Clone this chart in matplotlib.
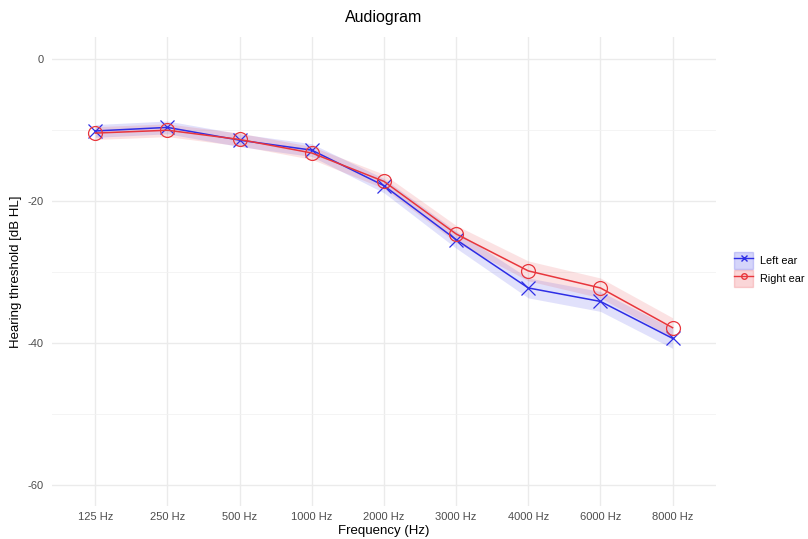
import matplotlib.pyplot as plt
from matplotlib.patches import Patch
from matplotlib.lines import Line2D

plt.rcParams['font.family'] = ['Liberation Sans', 'DejaVu Sans']
plt.rcParams['axes.unicode_minus'] = False

# Audiogram thresholds (dB HL)
freqs = ['125 Hz', '250 Hz', '500 Hz', '1000 Hz', '2000 Hz', '3000 Hz', '4000 Hz', '6000 Hz', '8000 Hz']
left_ear = [-10.2, -9.7, -11.5, -12.9, -17.9, -25.5, -32.3, -34.2, -39.4]
right_ear = [-10.5, -10.1, -11.4, -13.3, -17.3, -24.7, -29.9, -32.3, -37.9]
left_err = [0.9, 0.9, 0.9, 0.9, 1.0, 1.2, 1.4, 1.4, 1.4]
right_err = [0.9, 0.9, 0.9, 0.9, 1.0, 1.2, 1.4, 1.4, 1.4]

blue = '#2E2EE6'
red = '#E8363C'

fig = plt.figure(figsize=(8.08, 5.39), dpi=100)
ax = fig.add_axes([0.0644, 0.0612, 0.8216, 0.8698])

x = list(range(1, len(freqs) + 1))

lo = [v - e for v, e in zip(left_ear, left_err)]
hi = [v + e for v, e in zip(left_ear, left_err)]
ax.fill_between(x, lo, hi, color=blue, alpha=0.14, linewidth=0)
lo = [v - e for v, e in zip(right_ear, right_err)]
hi = [v + e for v, e in zip(right_ear, right_err)]
ax.fill_between(x, lo, hi, color=red, alpha=0.14, linewidth=0)

ax.plot(x, left_ear, color=blue, lw=1.1, marker='x', ms=10, mew=0.9)
ax.plot(x, right_ear, color=red, lw=1.1, marker='o', ms=10, mfc='none', mew=0.9)

ax.set_xlim(0.4, len(freqs) + 0.6)
ax.set_ylim(-63, 3)
ax.set_xticks(x)
ax.set_xticklabels(freqs)
ax.set_yticks([0, -20, -40, -60])
ax.set_yticks([-10, -30, -50], minor=True)

ax.grid(True, which='major', color='#EBEBEB', lw=1.0)
ax.grid(True, which='minor', axis='y', color='#F2F2F2', lw=0.6)
ax.set_axisbelow(True)
for s in ax.spines.values():
    s.set_visible(False)
ax.tick_params(which='both', length=0, labelsize=8, labelcolor='#4D4D4D')
ax.tick_params(axis='x', pad=4)
ax.tick_params(axis='y', pad=6)

ax.set_title('Audiogram', fontsize=11.5, pad=11)
ax.set_xlabel('Frequency (Hz)', fontsize=9.5)
ax.xaxis.set_label_coords(0.5, -0.040)
ax.set_ylabel('Hearing threshold [dB HL]', fontsize=9.5)
ax.yaxis.set_label_coords(-0.045, 0.5)

h_left = (Patch(facecolor=blue, alpha=0.2, edgecolor=blue, lw=1.0),
          Line2D([], [], color=blue, lw=1.0, marker='x', ms=4))
h_right = (Patch(facecolor=red, alpha=0.2, edgecolor=red, lw=1.0),
           Line2D([], [], color=red, lw=1.0, marker='o', ms=4, mfc='none'))
fig.legend([h_left, h_right], ['Left ear', 'Right ear'], loc='center left',
           bbox_to_anchor=(0.903, 0.5), frameon=False, fontsize=7.8,
           handlelength=1.8, handleheight=2.1, handletextpad=0.6, labelspacing=0.1,
           borderaxespad=0)

fig.savefig('out.png', dpi=100)
